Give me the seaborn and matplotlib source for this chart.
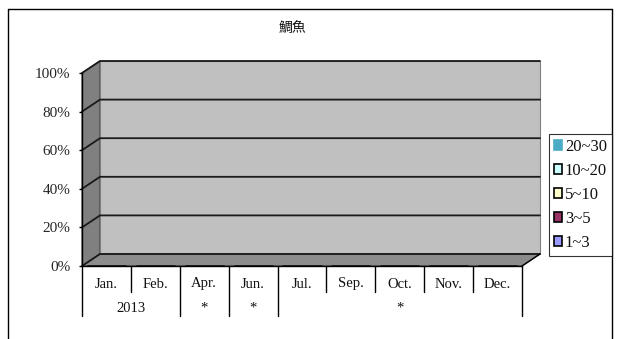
import pandas as pd
import numpy as np
import matplotlib
matplotlib.use("Agg")
import matplotlib.pyplot as plt
import matplotlib.transforms as mtransforms
from matplotlib.patches import Polygon, Rectangle, Patch
from matplotlib.lines import Line2D
import seaborn as sns

# Chart data (the source chart is empty: every share is 0)
months = ["Jan.", "Feb.", "Apr.", "Jun.", "Jul.", "Sep.", "Oct.", "Nov.", "Dec."]
group_labels = ["2013", "*", "*", "*"]
group_spans = [2, 1, 1, 5]
size_classes = ["1~3", "3~5", "5~10", "10~20", "20~30"]
share_1_3 = [0, 0, 0, 0, 0, 0, 0, 0, 0]
share_3_5 = [0, 0, 0, 0, 0, 0, 0, 0, 0]
share_5_10 = [0, 0, 0, 0, 0, 0, 0, 0, 0]
share_10_20 = [0, 0, 0, 0, 0, 0, 0, 0, 0]
share_20_30 = [0, 0, 0, 0, 0, 0, 0, 0, 0]
y_ticks = [0, 0.2, 0.4, 0.6, 0.8, 1.0]
title = "鯛魚"

colors = {"1~3": "#9999ff", "3~5": "#993366", "5~10": "#ffffcc",
          "10~20": "#ccffff", "20~30": "#4bacc6"}

df = pd.DataFrame({
    "month": months * 5,
    "size": np.repeat(size_classes, len(months)),
    "share": share_1_3 + share_3_5 + share_5_10 + share_10_20 + share_20_30,
})

sns.set_style("white")
plt.rcParams["font.family"] = ["Liberation Serif", "Noto Sans CJK TC", "DejaVu Sans"]
plt.rcParams["text.color"] = "#111111"

W, H = 619, 339
fig = plt.figure(figsize=(W / 100, H / 100), dpi=100)

# front plane of the plot area in pixels
x0, x1, y_bot, y_top = 82, 522, 266, 73
ax = fig.add_axes([x0 / W, 1 - y_bot / H, (x1 - x0) / W, (y_bot - y_top) / H])
ax.set_facecolor("none")

# 3D depth offset in axes fraction
ox = 18 / (x1 - x0)
oy = 12 / (y_bot - y_top)

# walls
side = Polygon([(0, 0), (ox, oy), (ox, 1 + oy), (0, 1)], closed=True,
               facecolor="#808080", edgecolor="#404040", lw=0.8,
               transform=ax.transAxes, clip_on=False, zorder=0)
back = Rectangle((ox, oy), 1, 1, facecolor="#c0c0c0", edgecolor="#808080", lw=0.8,
                 transform=ax.transAxes, clip_on=False, zorder=0)
floor = Polygon([(0, 0), (1, 0), (1 + ox, oy), (ox, oy)], closed=True,
                facecolor="#8c8c8c", edgecolor="#404040", lw=0.8,
                transform=ax.transAxes, clip_on=False, zorder=0)
for p in (side, back, floor):
    ax.add_patch(p)

# gridlines running across the side and back walls
for v in y_ticks:
    ax.plot([0, ox, 1 + ox], [v, v + oy, v + oy], color="#1a1a1a", lw=1.3,
            transform=ax.transAxes, clip_on=False, zorder=0.5)
ax.plot([1, 1 + ox], [0, oy], color="black", lw=1, transform=ax.transAxes,
        clip_on=False, zorder=0.5)

sns.barplot(data=df, x="month", y="share", hue="size", hue_order=size_classes,
            palette=colors, dodge=False, legend=False, ax=ax, edgecolor="black")

ax.set_xlim(-0.5, len(months) - 0.5)
ax.set_ylim(0, 1)
ax.set_yticks(y_ticks)
ax.set_yticklabels([f"{int(round(v * 100))}%" for v in y_ticks], fontsize=11)
ax.tick_params(axis="y", length=2, width=1, color="black", pad=6.5, left=True)
ax.set_xticks(range(len(months)))
ax.set_xticklabels([])
ax.tick_params(axis="x", length=0)
ax.set_xlabel("")
ax.set_ylabel("")
for s in ["top", "right"]:
    ax.spines[s].set_visible(False)
for s in ["left", "bottom"]:
    ax.spines[s].set_color("black")
    ax.spines[s].set_linewidth(1)

# category labels (two rows)
trans = mtransforms.blended_transform_factory(ax.transData, ax.transAxes)
ph = y_bot - y_top
for i, m in enumerate(months):
    ax.text(i, -18 / ph, m, transform=trans, ha="center", va="center", fontsize=10.5)

long_div = [-0.5]
start = 0
for g, n in zip(group_labels, group_spans):
    ax.text(start + (n - 1) / 2, -42 / ph, g, transform=trans, ha="center",
            va="center", fontsize=10.5)
    start += n
    long_div.append(start - 0.5)
for k in range(len(months) + 1):
    xb = k - 0.5
    depth = 50 if xb in long_div else 26
    ax.plot([xb, xb], [0, -depth / ph], color="black", lw=1, transform=trans,
            clip_on=False)

# title
fig.text(292 / W, 1 - 29 / H, title, ha="center", va="center", fontsize=10,
         family=["Noto Sans CJK TC", "DejaVu Sans"])

# legend, top entry first
handles = []
for s in reversed(size_classes):
    ec = colors[s] if s == "20~30" else "black"
    handles.append(Patch(facecolor=colors[s], edgecolor=ec, lw=1.2))
leg = fig.legend(handles, list(reversed(size_classes)), loc="upper left",
                 bbox_to_anchor=(549 / W, 1 - 134 / H), frameon=True, fancybox=False,
                 fontsize=12, handlelength=0.5, handleheight=0.5,
                 handletextpad=0.15, labelspacing=0.48, borderpad=0.3,
                 borderaxespad=0)
leg.get_frame().set_edgecolor("black")
leg.get_frame().set_linewidth(0.8)

# outer chart frame
for xs, ys in [([8, 8], [9, H]), ([8, 612], [9, 9]), ([612, 612], [9, H])]:
    fig.add_artist(Line2D([x / W for x in xs], [1 - y / H for y in ys],
                          color="black", lw=1, transform=fig.transFigure))

fig.savefig("out.png", dpi=100)
